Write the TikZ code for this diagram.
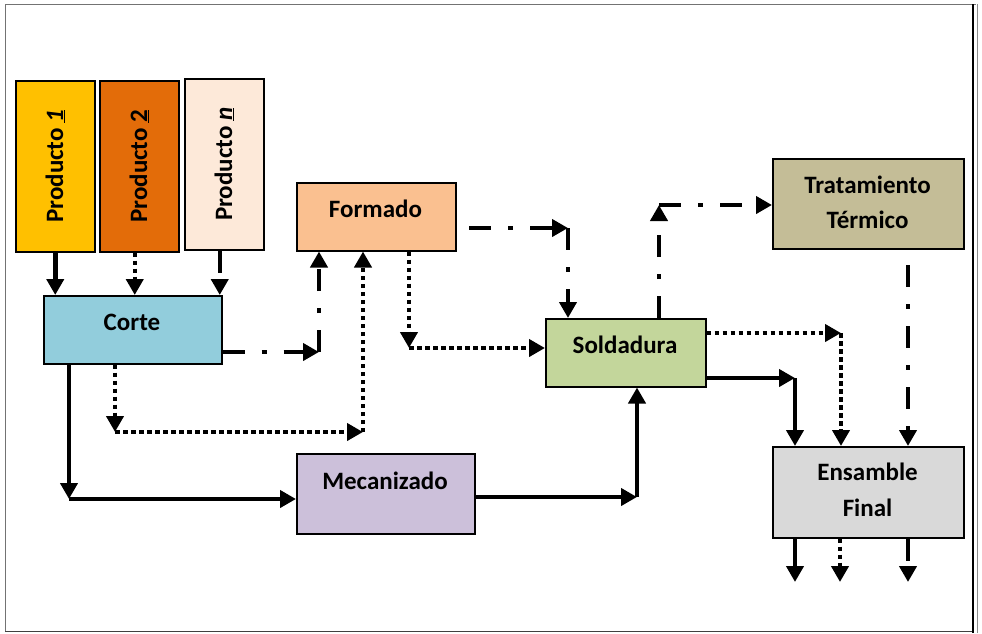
\documentclass[tikz,border=0pt]{standalone}
\usepackage{fontspec}
\setmainfont{Carlito}
\usetikzlibrary{arrows.meta}
\begin{document}
\begin{tikzpicture}[x=1pt,y=-1pt,
  box/.style={draw=black, line width=1.5pt, inner sep=0pt, anchor=north west},
  txt/.style={font=\fontsize{25}{29}\selectfont\bfseries, inner sep=0pt, anchor=base},
  rtxt/.style={font=\fontsize{25}{29}\selectfont\bfseries, inner sep=0pt, rotate=90, anchor=center},
  con/.style={line width=4.5pt, -{Triangle[length=16pt,width=17pt]}},
  solidl/.style={con},
  dotl/.style={con, dash pattern=on 4.5pt off 3.5pt},
  dashdotl/.style={con, dash pattern=on 22pt off 17pt on 5pt off 17pt},
]
\useasboundingbox (0,0) rectangle (982,633);
\definecolor{cP1}{HTML}{FFC000}
\definecolor{cP2}{HTML}{E36C09}
\definecolor{cPn}{HTML}{FDE9D9}
\definecolor{cCorte}{HTML}{92CDDC}
\definecolor{cForm}{HTML}{FAC090}
\definecolor{cSold}{HTML}{C3D69B}
\definecolor{cTrat}{HTML}{C4BD97}
\definecolor{cMeca}{HTML}{CCC0DA}
\definecolor{cEns}{HTML}{D9D9D9}

% frame
\draw[black!55, line width=1pt] (5,632) -- (5,4.5) -- (976,4.5);
\draw[black!75, line width=1.2pt] (5,631.5) -- (973,631.5);
\draw[black, line width=1.6pt] (973,4) -- (973,633);
\draw[black!45, line width=1pt] (977.5,4) -- (977.5,633);

% boxes
\node[box, fill=cP1, minimum width=79pt, minimum height=171pt] (p1) at (15,80) {};
\node[box, fill=cP2, minimum width=79pt, minimum height=171pt] (p2) at (99,80) {};
\node[box, fill=cPn, minimum width=79pt, minimum height=171pt] (pn) at (184,78) {};
\node[box, fill=cCorte, minimum width=178pt, minimum height=68pt] (corte) at (43,295) {};
\node[box, fill=cForm, minimum width=159pt, minimum height=68pt] (formado) at (296,182) {};
\node[box, fill=cSold, minimum width=160pt, minimum height=68pt] (sold) at (545,318) {};
\node[box, fill=cTrat, minimum width=191pt, minimum height=90pt] (trat) at (772,158) {};
\node[box, fill=cMeca, minimum width=178pt, minimum height=80pt] (meca) at (296,453) {};
\node[box, fill=cEns, minimum width=191pt, minimum height=91pt] (ens) at (772,446) {};

% texts
\node[rtxt] (tp1) at (p1.center) {Producto \underline{\textit{1}}};
\node[rtxt] (tp2) at (p2.center) {Producto \underline{2}};
\node[rtxt] (tpn) at (pn.center) {Producto \underline{\textit{n}}};
\node[txt] (tcorte) at (132,330) {Corte};
\node[txt] (tform) at (375.5,217) {Formado};
\node[txt] (tsold) at (625,353) {Soldadura};
\node[txt] (ttrat1) at (867.5,193) {Tratamiento};
\node[txt] (ttrat2) at (867.5,228) {Térmico};
\node[txt] (tmeca) at (385,489) {Mecanizado};
\node[txt] (tens1) at (867.5,480) {Ensamble};
\node[txt] (tens2) at (867.5,516) {Final};

% coordinates
\coordinate (c4) at (319,352);
\coordinate (c5a) at (115,432);
\coordinate (c5b) at (363,432);
\coordinate (c6) at (69,499);
\coordinate (c7) at (637,497);
\coordinate (c8a) at (469,228);
\coordinate (c8) at (568,228);
\coordinate (c9) at (409,348);
\coordinate (c10) at (659,205);
\coordinate (c11) at (841,333);
\coordinate (c12) at (795,378);
\coordinate (c13) at (908,265);
\coordinate (o1) at (795,582);
\coordinate (o2) at (840,582);
\coordinate (o3) at (908,582);

% connectors
\draw[solidl] (p1.south) -- (p1.south |- corte.north);
\draw[dotl] ([xshift=-4.5pt]p2.south) -- ([xshift=-4.5pt]p2.south |- corte.north);
\draw[dashdotl] ([xshift=-4.5pt]pn.south) -- ([xshift=-4.5pt]pn.south |- corte.north);

\draw[dashdotl] (corte.east |- c4) -- (c4);
\draw[dashdotl] (c4) -- (c4 |- formado.south);

\draw[dotl] (corte.south -| c5a) -- (c5a);
\draw[dotl] (c5a) -- (c5b);
\draw[dotl] (c5b) -- (c5b |- formado.south);

\draw[solidl] (corte.south -| c6) -- (c6);
\draw[solidl] (c6) -- (c6 -| meca.west);

\draw[solidl] (meca.east |- c7) -- (c7);
\draw[solidl] (c7) -- (c7 |- sold.south);

\draw[dashdotl] (c8a) -- (c8);
\draw[dashdotl] (c8) -- (c8 |- sold.north);

\draw[dotl] (formado.south -| c9) -- (c9);
\draw[dotl] (c9) -- (c9 -| sold.west);

\draw[dashdotl] (sold.north -| c10) -- (c10);
\draw[dashdotl] (c10) -- (c10 -| trat.west);

\draw[dotl] (sold.east |- c11) -- (c11);
\draw[dotl] (c11) -- (c11 |- ens.north);

\draw[solidl] (sold.east |- c12) -- (c12);
\draw[solidl] (c12) -- (c12 |- ens.north);

\draw[dashdotl] (c13) -- (c13 |- ens.north);

\draw[solidl] (ens.south -| o1) -- (o1);
\draw[dotl] (ens.south -| o2) -- (o2);
\draw[dashdotl] (ens.south -| o3) -- (o3);
\end{tikzpicture}
\end{document}
